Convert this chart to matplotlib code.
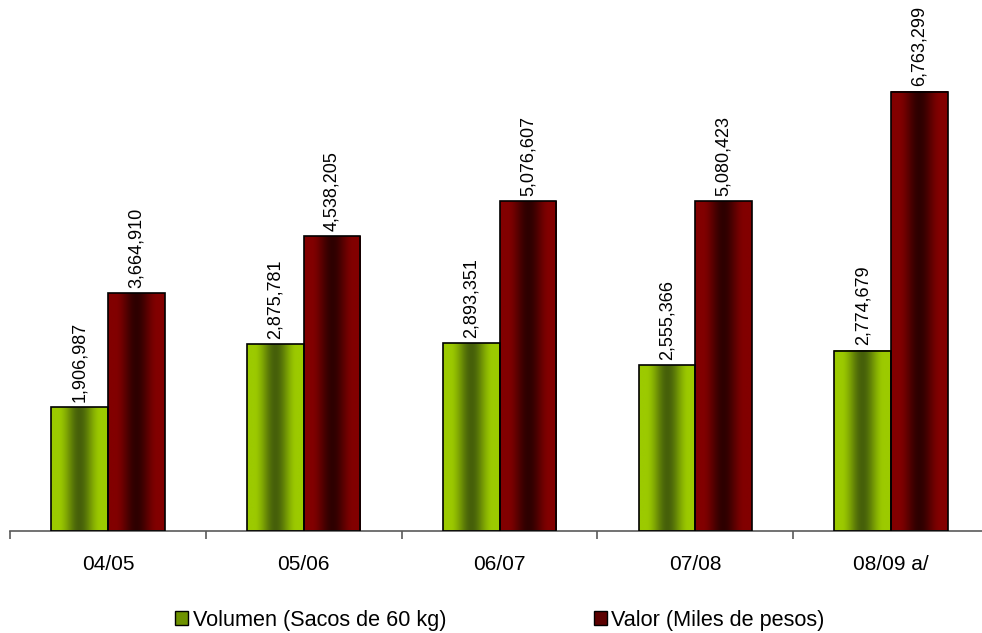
import numpy as np
import matplotlib
matplotlib.use("Agg")
import matplotlib.pyplot as plt
from matplotlib.colors import LinearSegmentedColormap
from matplotlib.patches import Patch

plt.rcParams["font.family"] = ["Liberation Sans", "DejaVu Sans"]

# data
ciclos = ["04/05", "05/06", "06/07", "07/08", "08/09 a/"]
volumen = [1906987, 2875781, 2893351, 2555366, 2774679]
valor = [3664910, 4538205, 5076607, 5080423, 6763299]
nombres = ["Volumen (Sacos de 60 kg)", "Valor (Miles de pesos)"]

# bar gradients: light at the edges, dark in the middle
verde = LinearSegmentedColormap.from_list("verde", ["#46600A", "#9CCA00"])
rojo = LinearSegmentedColormap.from_list("rojo", ["#2E0000", "#820000"])

fig = plt.figure(figsize=(9.82, 6.33), dpi=100)
ax = fig.add_axes([10 / 982, 0.1611, 979 / 982, 0.8204])

ancho = 0.29
u = np.linspace(0, 1, 300)
d = np.clip(np.abs(2 * u - 1) / 0.75, 0, 1)
grad = (d * d * (3 - 2 * d)).reshape(1, -1)
x = np.arange(len(ciclos))


def barras(posiciones, valores, cmap):
    for xi, v in zip(posiciones, valores):
        ax.imshow(grad, cmap=cmap, vmin=0, vmax=1, aspect="auto",
                  extent=(xi, xi + ancho, 0, v), interpolation="bilinear", zorder=2)
    bars = ax.bar(posiciones, valores, width=ancho, align="edge", facecolor="none",
                  edgecolor="black", linewidth=1.2, zorder=3)
    for b, v in zip(bars, valores):
        ax.annotate(f"{v:,}", (b.get_x() + b.get_width() / 2, v), xytext=(0, 4),
                    textcoords="offset points", rotation=90, ha="center", va="bottom",
                    fontsize=13)


barras(x - ancho, volumen, verde)
barras(x, valor, rojo)

ax.set_xlim(-0.5, len(ciclos) - 0.5)
ax.set_ylim(0, 8000000)

for s in ["top", "right", "left"]:
    ax.spines[s].set_visible(False)
ax.spines["bottom"].set_color("#5A5A5A")
ax.spines["bottom"].set_linewidth(1.2)
ax.set_yticks([])
ax.set_xticks(x)
ax.set_xticklabels(ciclos, fontsize=15)
ax.tick_params(axis="x", which="major", length=0, pad=17)
ax.set_xticks(np.arange(-0.5, len(ciclos)), minor=True)
ax.tick_params(axis="x", which="minor", length=6, width=1.2, color="#5A5A5A", direction="out")

handles = [Patch(facecolor="#6E9200", edgecolor="black"),
           Patch(facecolor="#5C0000", edgecolor="black")]
fig.legend(handles, nombres, loc="center", bbox_to_anchor=(0.509, 0.0205), ncol=2,
           frameon=False, fontsize=15.6, handlelength=0.6, handleheight=0.6,
           handletextpad=0.2, columnspacing=6.8)

fig.savefig("out.png", dpi=100)
